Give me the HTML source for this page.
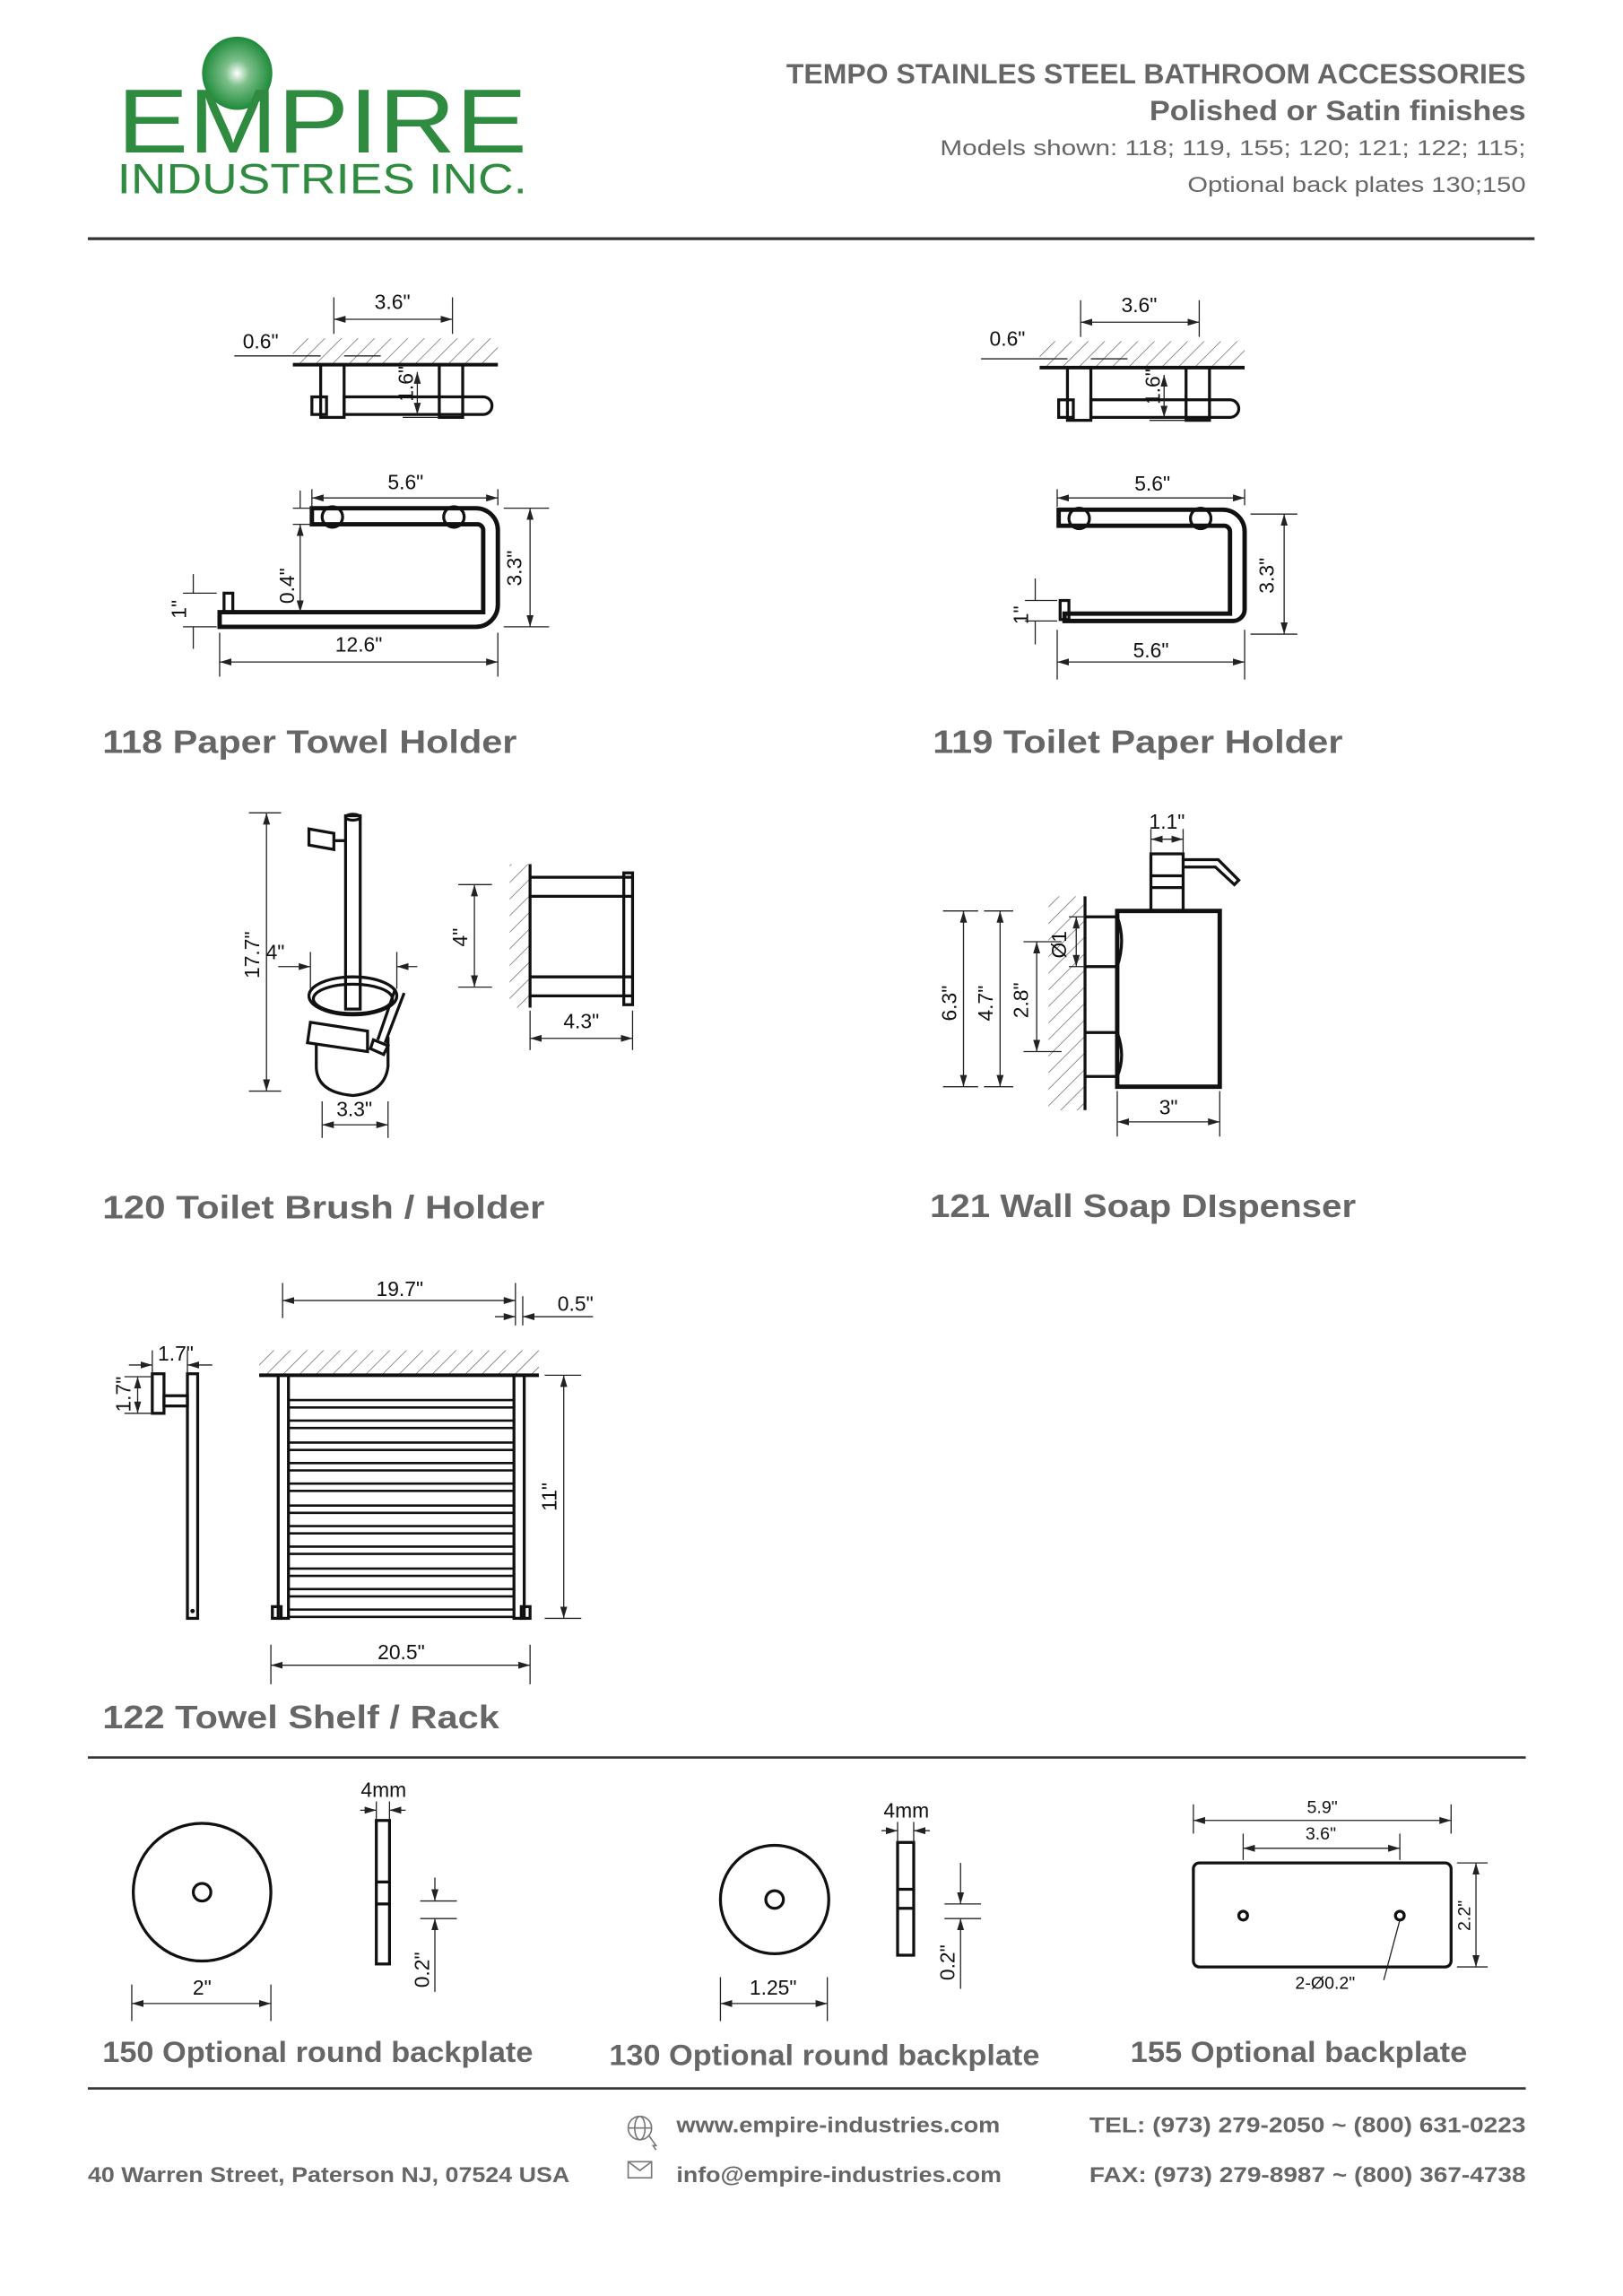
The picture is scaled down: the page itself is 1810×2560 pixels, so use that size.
<!DOCTYPE html>
<html><head><meta charset="utf-8"><style>
html,body{margin:0;padding:0;background:#fff;}
svg{display:block;}
.t{font-family:"Liberation Sans",sans-serif;fill:#666;font-weight:bold;}
.d{font-family:"Liberation Sans",sans-serif;fill:#111;font-size:14px;}
.k{stroke:#111;stroke-width:3;fill:none;}
.m{stroke:#111;stroke-width:2;fill:none;}
.n{stroke:#222;stroke-width:0.8;fill:none;}
.a{stroke:#222;stroke-width:0.8;fill:none;marker-start:url(#ar);marker-end:url(#ar);}
</style></head><body>
<svg width="1810" height="2560" viewBox="0 0 1108.4 1567.7" preserveAspectRatio="none" xmlns="http://www.w3.org/2000/svg">
<defs>
<marker id="ar" viewBox="0 0 10 10" refX="10" refY="5" markerWidth="8" markerHeight="8" orient="auto-start-reverse" markerUnits="userSpaceOnUse"><path d="M0,2 L10,5 L0,8 z" fill="#222"/></marker>
<pattern id="h" width="8" height="8" patternUnits="userSpaceOnUse" patternTransform="rotate(45)"><line x1="0" y1="0" x2="0" y2="8" stroke="#555" stroke-width="0.8"/></pattern>
<radialGradient id="g" cx="50%" cy="50%" r="50%"><stop offset="0" stop-color="#fff"/><stop offset="0.35" stop-color="#7cc08a"/><stop offset="1" stop-color="#1e8a3a"/></radialGradient>
</defs>

<!-- header -->
<ellipse cx="162" cy="50" rx="24" ry="25" fill="url(#g)"/>
<text x="80" y="104" font-family="Liberation Sans,sans-serif" font-size="62" fill="#2f8b3f" textLength="280" lengthAdjust="spacingAndGlyphs">EMPIRE</text>
<text x="80" y="132" font-family="Liberation Sans,sans-serif" font-size="29" fill="#2f8b3f" textLength="280" lengthAdjust="spacingAndGlyphs">INDUSTRIES INC.</text>
<text class="t" x="537" y="57" font-size="19" fill="#5a5a5a" textLength="505" lengthAdjust="spacingAndGlyphs">TEMPO STAINLES STEEL BATHROOM ACCESSORIES</text>
<text class="t" x="785" y="82" font-size="19" textLength="257" lengthAdjust="spacingAndGlyphs">Polished or Satin finishes</text>
<text x="642" y="106" font-size="15" font-family="Liberation Sans,sans-serif" fill="#666" textLength="400" lengthAdjust="spacingAndGlyphs">Models shown: 118; 119, 155; 120; 121; 122; 115;</text>
<text x="811" y="131" font-size="15" font-family="Liberation Sans,sans-serif" fill="#666" textLength="231" lengthAdjust="spacingAndGlyphs">Optional back plates 130;150</text>
<line x1="60" y1="163" x2="1048" y2="163" stroke="#333" stroke-width="2"/>

<!-- 118 top -->
<g>
<rect x="200" y="231" width="140" height="18" fill="url(#h)"/>
<line x1="200" y1="249" x2="340" y2="249" stroke="#111" stroke-width="2.5"/>
<rect class="m" x="213" y="271" width="10" height="12"/>
<path class="m" d="M235,271 H330 a6,6 0 0 1 0,12 H235 z"/>
<rect class="m" x="219" y="249" width="16" height="36" fill="#fff"/>
<rect class="m" x="300" y="249" width="16" height="36" fill="#fff"/>
<line class="n" x1="228" y1="203" x2="228" y2="228"/><line class="n" x1="309" y1="203" x2="309" y2="228"/>
<line class="a" x1="228" y1="218" x2="309" y2="218"/>
<text class="d" x="268" y="211" text-anchor="middle">3.6"</text>
<line class="n" x1="160" y1="243" x2="219" y2="243"/><line class="n" x1="235" y1="243" x2="260" y2="243"/>
<text class="d" x="178" y="238" text-anchor="middle">0.6"</text>
<line class="a" x1="285" y1="254" x2="285" y2="283"/><line class="n" x1="275" y1="285" x2="300" y2="285"/>
<text class="d" transform="translate(282,262) rotate(-90)" text-anchor="middle">1.6"</text>
</g>
<!-- 118 front -->
<g>
<path class="k" d="M213,347 H325 a15,15 0 0 1 15,15 V413 a15,15 0 0 1 -15,15 H150 V418 H330 V362 a4,4 0 0 0 -4,-4 H213 z"/>
<rect class="m" x="153" y="405" width="6" height="13" fill="#fff"/>
<circle class="m" cx="227" cy="353" r="7" fill="#fff"/>
<circle class="m" cx="310" cy="353" r="7" fill="#fff"/>
<line class="n" x1="213" y1="334" x2="213" y2="346"/><line class="n" x1="340" y1="334" x2="340" y2="345"/>
<line class="a" x1="213" y1="340" x2="340" y2="340"/>
<text class="d" x="277" y="334" text-anchor="middle">5.6"</text>
<line class="n" x1="150" y1="432" x2="150" y2="462"/><line class="n" x1="340" y1="432" x2="340" y2="462"/>
<line class="a" x1="150" y1="452" x2="340" y2="452"/>
<text class="d" x="245" y="445" text-anchor="middle">12.6"</text>
<line class="n" x1="344" y1="347" x2="375" y2="347"/><line class="n" x1="344" y1="428" x2="375" y2="428"/>
<line class="a" x1="362" y1="347" x2="362" y2="428"/>
<text class="d" transform="translate(356,388) rotate(-90)" text-anchor="middle">3.3"</text>
<line class="n" x1="200" y1="347" x2="213" y2="347"/><line class="n" x1="200" y1="358" x2="213" y2="358"/>
<line class="n" x1="205" y1="335" x2="205" y2="347"/><line class="a" x1="205" y1="418" x2="205" y2="358"/>
<text class="d" transform="translate(201,400) rotate(-90)" text-anchor="middle">0.4"</text>
<line class="n" x1="125" y1="405" x2="148" y2="405"/><line class="n" x1="125" y1="428" x2="148" y2="428"/>
<line class="n" x1="132" y1="392" x2="132" y2="405"/><line class="n" x1="132" y1="428" x2="132" y2="443"/>
<text class="d" transform="translate(127,416) rotate(-90)" text-anchor="middle">1"</text>
</g>
<text class="t" x="70" y="514" font-size="22" textLength="283" lengthAdjust="spacingAndGlyphs">118 Paper Towel Holder</text>

<!-- 119 top -->
<g transform="translate(510,2)">
<rect x="200" y="231" width="140" height="18" fill="url(#h)"/>
<line x1="200" y1="249" x2="340" y2="249" stroke="#111" stroke-width="2.5"/>
<rect class="m" x="213" y="271" width="10" height="12"/>
<path class="m" d="M235,271 H330 a6,6 0 0 1 0,12 H235 z"/>
<rect class="m" x="219" y="249" width="16" height="36" fill="#fff"/>
<rect class="m" x="300" y="249" width="16" height="36" fill="#fff"/>
<line class="n" x1="228" y1="203" x2="228" y2="228"/><line class="n" x1="309" y1="203" x2="309" y2="228"/>
<line class="a" x1="228" y1="218" x2="309" y2="218"/>
<text class="d" x="268" y="211" text-anchor="middle">3.6"</text>
<line class="n" x1="160" y1="243" x2="219" y2="243"/><line class="n" x1="235" y1="243" x2="260" y2="243"/>
<text class="d" x="178" y="234" text-anchor="middle">0.6"</text>
<line class="a" x1="285" y1="254" x2="285" y2="283"/><line class="n" x1="275" y1="285" x2="300" y2="285"/>
<text class="d" transform="translate(282,262) rotate(-90)" text-anchor="middle">1.6"</text>
</g>
<!-- 119 front -->
<g>
<path class="k" d="M723,348 H835 a15,15 0 0 1 15,15 V416 a8,8 0 0 1 -8,8 H727 V419 H840 V363 a4,4 0 0 0 -4,-4 H723 z"/>
<rect class="m" x="724" y="410" width="6" height="13" fill="#fff"/>
<circle class="m" cx="737" cy="354" r="7" fill="#fff"/>
<circle class="m" cx="820" cy="354" r="7" fill="#fff"/>
<line class="n" x1="722" y1="334" x2="722" y2="346"/><line class="n" x1="850" y1="334" x2="850" y2="345"/>
<line class="a" x1="722" y1="340" x2="850" y2="340"/>
<text class="d" x="787" y="335" text-anchor="middle">5.6"</text>
<line class="n" x1="722" y1="430" x2="722" y2="464"/><line class="n" x1="850" y1="430" x2="850" y2="464"/>
<line class="a" x1="722" y1="452" x2="850" y2="452"/>
<text class="d" x="786" y="449" text-anchor="middle">5.6"</text>
<line class="n" x1="854" y1="351" x2="886" y2="351"/><line class="n" x1="854" y1="433" x2="886" y2="433"/>
<line class="a" x1="877" y1="351" x2="877" y2="433"/>
<text class="d" transform="translate(870,393) rotate(-90)" text-anchor="middle">3.3"</text>
<line class="n" x1="700" y1="410" x2="722" y2="410"/><line class="n" x1="700" y1="424" x2="722" y2="424"/>
<line class="n" x1="707" y1="395" x2="707" y2="410"/><line class="n" x1="707" y1="424" x2="707" y2="440"/>
<text class="d" transform="translate(702,420) rotate(-90)" text-anchor="middle">1"</text>
</g>
<text class="t" x="637" y="514" font-size="22" textLength="280" lengthAdjust="spacingAndGlyphs">119 Toilet Paper Holder</text>

<!-- 120 brush -->
<g>
<rect class="m" x="236" y="557" width="10" height="132" fill="#fff"/>
<ellipse class="m" cx="241" cy="558" rx="5" ry="2"/>
<path class="m" d="M211,566 L228,569 L228,580 L211,577 z"/>
<line class="m" x1="228" y1="574" x2="236" y2="574"/>
<ellipse class="m" cx="241" cy="680" rx="30" ry="13"/>
<ellipse class="m" cx="241" cy="682" rx="27" ry="10"/>
<path class="m" d="M212,698 L251,704 L251,718 L210,712 z"/>
<path class="m" d="M216,713 V728 q0,18 25,20 q22,-2 24,-20 V708"/>
<path class="m" d="M270,675 L258,710 M276,678 L263,712"/>
<path class="m" d="M255,710 L265,714 L262,720 L253,716 z"/>
<line class="n" x1="170" y1="555" x2="192" y2="555"/><line class="n" x1="170" y1="745" x2="192" y2="745"/>
<line class="a" x1="182" y1="555" x2="182" y2="745"/>
<text class="d" transform="translate(177,652) rotate(-90)" text-anchor="middle">17.7"</text>
<text class="d" x="188" y="655" text-anchor="middle">4"</text>
<line class="n" x1="212" y1="650" x2="212" y2="675"/><line class="n" x1="271" y1="650" x2="271" y2="675"/>
<line class="n" x1="190" y1="660" x2="212" y2="660" marker-end="url(#ar)"/>
<line class="n" x1="285" y1="660" x2="271" y2="660" marker-end="url(#ar)"/>
<line class="n" x1="220" y1="752" x2="220" y2="777"/><line class="n" x1="265" y1="752" x2="265" y2="777"/>
<line class="a" x1="220" y1="768" x2="265" y2="768"/>
<text class="d" x="242" y="762" text-anchor="middle">3.3"</text>
</g>
<!-- 120 holder -->
<g>
<rect x="348" y="590" width="14" height="98" fill="url(#h)"/>
<line x1="362" y1="590" x2="362" y2="688" stroke="#111" stroke-width="2"/>
<line class="m" x1="362" y1="599" x2="432" y2="599"/>
<line class="m" x1="362" y1="612" x2="432" y2="612"/>
<line class="m" x1="362" y1="667" x2="432" y2="667"/>
<line class="m" x1="362" y1="680" x2="432" y2="680"/>
<rect class="m" x="426" y="596" width="6" height="90" fill="#fff"/>
<line class="n" x1="313" y1="604" x2="336" y2="604"/><line class="n" x1="313" y1="674" x2="336" y2="674"/>
<line class="a" x1="324" y1="604" x2="324" y2="674"/>
<text class="d" transform="translate(319,640) rotate(-90)" text-anchor="middle">4"</text>
<line class="n" x1="362" y1="690" x2="362" y2="717"/><line class="n" x1="432" y1="690" x2="432" y2="717"/>
<line class="a" x1="362" y1="709" x2="432" y2="709"/>
<text class="d" x="397" y="702" text-anchor="middle">4.3"</text>
</g>
<text class="t" x="70" y="832" font-size="22" textLength="302" lengthAdjust="spacingAndGlyphs">120 Toilet Brush / Holder</text>

<!-- 121 -->
<g>
<rect x="716" y="612" width="24" height="146" fill="url(#h)"/>
<line x1="741" y1="612" x2="741" y2="758" stroke="#111" stroke-width="2"/>
<rect class="k" x="763" y="622" width="70" height="120" fill="#fff"/>
<path class="m" d="M741,626 H763 q6,16 0,34 H741"/>
<path class="m" d="M741,705 H763 q6,16 0,30 H741"/>
<rect class="m" x="786" y="583" width="22" height="39"/>
<line class="m" x1="786" y1="598" x2="808" y2="598"/><line class="m" x1="786" y1="606" x2="808" y2="606"/>
<path class="m" d="M808,587 H832 L846,601 L843,604 L830,592 H808"/>
<line class="n" x1="786" y1="566" x2="786" y2="582"/><line class="n" x1="808" y1="566" x2="808" y2="582"/>
<line class="a" x1="786" y1="573" x2="808" y2="573"/>
<text class="d" x="797" y="566" text-anchor="middle">1.1"</text>
<line class="n" x1="644" y1="622" x2="668" y2="622"/><line class="n" x1="644" y1="742" x2="668" y2="742"/>
<line class="a" x1="658" y1="622" x2="658" y2="742"/>
<text class="d" transform="translate(653,685) rotate(-90)" text-anchor="middle">6.3"</text>
<line class="n" x1="672" y1="622" x2="692" y2="622"/><line class="n" x1="672" y1="742" x2="692" y2="742"/>
<line class="a" x1="683" y1="622" x2="683" y2="742"/>
<text class="d" transform="translate(678,685) rotate(-90)" text-anchor="middle">4.7"</text>
<line class="n" x1="699" y1="643" x2="725" y2="643"/><line class="n" x1="699" y1="718" x2="725" y2="718"/>
<line class="a" x1="708" y1="643" x2="708" y2="718"/>
<text class="d" transform="translate(702,683) rotate(-90)" text-anchor="middle">2.8"</text>
<line class="n" x1="730" y1="626" x2="740" y2="626"/><line class="n" x1="730" y1="660" x2="740" y2="660"/>
<line class="a" x1="735" y1="626" x2="735" y2="660"/>
<text class="d" transform="translate(728,645) rotate(-90)" text-anchor="middle">Ø1</text>
<line class="n" x1="763" y1="745" x2="763" y2="776"/><line class="n" x1="833" y1="745" x2="833" y2="776"/>
<line class="a" x1="763" y1="766" x2="833" y2="766"/>
<text class="d" x="798" y="761" text-anchor="middle">3"</text>
</g>
<text class="t" x="635" y="831" font-size="22" textLength="291" lengthAdjust="spacingAndGlyphs">121 Wall Soap DIspenser</text>

<!-- 122 side -->
<g>
<rect class="m" x="104" y="938" width="8" height="27"/>
<rect class="m" x="112" y="953" width="16" height="7"/>
<rect class="m" x="128" y="938" width="7" height="167" fill="#fff"/>
<circle cx="131.5" cy="1100" r="1.5" fill="#111"/>
<line class="n" x1="104" y1="922" x2="104" y2="938"/><line class="n" x1="128" y1="922" x2="128" y2="938"/>
<line class="n" x1="88" y1="932" x2="104" y2="932" marker-end="url(#ar)"/>
<line class="n" x1="145" y1="932" x2="128" y2="932" marker-end="url(#ar)"/>
<text class="d" x="120" y="929" text-anchor="middle">1.7"</text>
<line class="n" x1="85" y1="940" x2="103" y2="940"/><line class="n" x1="85" y1="965" x2="103" y2="965"/>
<line class="a" x1="94" y1="940" x2="94" y2="965"/>
<text class="d" transform="translate(89,952) rotate(-90)" text-anchor="middle">1.7"</text>
</g>
<!-- 122 rack -->
<g>
<rect x="177" y="922" width="191" height="17" fill="url(#h)"/>
<line x1="177" y1="939" x2="368" y2="939" stroke="#111" stroke-width="2.5"/>
<g stroke="#111" stroke-width="1.6">
<line x1="197" y1="956" x2="351" y2="956"/><line x1="197" y1="961" x2="351" y2="961"/>
<line x1="197" y1="970" x2="351" y2="970"/><line x1="197" y1="975" x2="351" y2="975"/>
<line x1="197" y1="985" x2="351" y2="985"/><line x1="197" y1="990" x2="351" y2="990"/>
<line x1="197" y1="999" x2="351" y2="999"/><line x1="197" y1="1004" x2="351" y2="1004"/>
<line x1="197" y1="1013" x2="351" y2="1013"/><line x1="197" y1="1018" x2="351" y2="1018"/>
<line x1="197" y1="1028" x2="351" y2="1028"/><line x1="197" y1="1033" x2="351" y2="1033"/>
<line x1="197" y1="1042" x2="351" y2="1042"/><line x1="197" y1="1047" x2="351" y2="1047"/>
<line x1="197" y1="1056" x2="351" y2="1056"/><line x1="197" y1="1061" x2="351" y2="1061"/>
<line x1="197" y1="1071" x2="351" y2="1071"/><line x1="197" y1="1076" x2="351" y2="1076"/>
<line x1="197" y1="1085" x2="351" y2="1085"/><line x1="197" y1="1090" x2="351" y2="1090"/>
<line x1="197" y1="1099" x2="351" y2="1099"/><line x1="197" y1="1104" x2="351" y2="1104"/>
</g>
<rect class="m" x="186" y="1097" width="6" height="8"/><rect class="m" x="356" y="1097" width="6" height="8"/>
<rect class="m" x="190" y="939" width="7" height="166" fill="#fff"/>
<rect class="m" x="351" y="939" width="7" height="166" fill="#fff"/>
<line class="n" x1="193" y1="876" x2="193" y2="900"/><line class="n" x1="352" y1="876" x2="352" y2="905"/><line class="n" x1="357" y1="885" x2="357" y2="905"/>
<line class="a" x1="193" y1="888" x2="352" y2="888"/>
<text class="d" x="273" y="885" text-anchor="middle">19.7"</text>
<line class="n" x1="338" y1="899" x2="352" y2="899" marker-end="url(#ar)"/>
<line class="n" x1="405" y1="899" x2="357" y2="899" marker-end="url(#ar)"/>
<text class="d" x="393" y="895" text-anchor="middle">0.5"</text>
<line class="n" x1="372" y1="939" x2="397" y2="939"/><line class="n" x1="372" y1="1105" x2="397" y2="1105"/>
<line class="a" x1="385" y1="939" x2="385" y2="1105"/>
<text class="d" transform="translate(380,1022) rotate(-90)" text-anchor="middle">11"</text>
<line class="n" x1="185" y1="1123" x2="185" y2="1150"/><line class="n" x1="362" y1="1123" x2="362" y2="1150"/>
<line class="a" x1="185" y1="1137" x2="362" y2="1137"/>
<text class="d" x="274" y="1133" text-anchor="middle">20.5"</text>
</g>
<text class="t" x="70" y="1180" font-size="22" textLength="271" lengthAdjust="spacingAndGlyphs">122 Towel Shelf / Rack</text>
<line x1="60" y1="1200" x2="1042" y2="1200" stroke="#333" stroke-width="1.6"/>

<!-- 150 -->
<g>
<circle class="m" cx="138" cy="1292" r="47" stroke-width="1.5"/>
<circle class="m" cx="138" cy="1292" r="6" stroke-width="1.5"/>
<rect class="m" x="257" y="1243" width="9" height="98" stroke-width="1.5"/>
<line class="m" x1="257" y1="1285" x2="266" y2="1285" stroke-width="1"/><line class="m" x1="257" y1="1300" x2="266" y2="1300" stroke-width="1"/>
<text class="d" x="262" y="1227" text-anchor="middle">4mm</text>
<line class="n" x1="257" y1="1230" x2="257" y2="1243"/><line class="n" x1="266" y1="1230" x2="266" y2="1243"/>
<line class="n" x1="246" y1="1236" x2="257" y2="1236" marker-end="url(#ar)"/><line class="n" x1="277" y1="1236" x2="266" y2="1236" marker-end="url(#ar)"/>
<line class="n" x1="287" y1="1298" x2="312" y2="1298"/><line class="n" x1="287" y1="1310" x2="312" y2="1310"/>
<line class="n" x1="297" y1="1282" x2="297" y2="1298" marker-end="url(#ar)"/><line class="n" x1="297" y1="1360" x2="297" y2="1310" marker-end="url(#ar)"/>
<text class="d" transform="translate(293,1345) rotate(-90)" text-anchor="middle">0.2"</text>
<line class="n" x1="90" y1="1355" x2="90" y2="1380"/><line class="n" x1="185" y1="1355" x2="185" y2="1380"/>
<line class="a" x1="90" y1="1368" x2="185" y2="1368"/>
<text class="d" x="138" y="1362" text-anchor="middle">2"</text>
</g>
<!-- 130 -->
<g>
<circle class="m" cx="529" cy="1297" r="37" stroke-width="1.5"/>
<circle class="m" cx="529" cy="1297" r="6" stroke-width="1.5"/>
<rect class="m" x="613" y="1258" width="11" height="77" stroke-width="1.5"/>
<line class="m" x1="613" y1="1290" x2="624" y2="1290" stroke-width="1"/><line class="m" x1="613" y1="1303" x2="624" y2="1303" stroke-width="1"/>
<text class="d" x="619" y="1241" text-anchor="middle">4mm</text>
<line class="n" x1="613" y1="1244" x2="613" y2="1258"/><line class="n" x1="624" y1="1244" x2="624" y2="1258"/>
<line class="n" x1="602" y1="1250" x2="613" y2="1250" marker-end="url(#ar)"/><line class="n" x1="635" y1="1250" x2="624" y2="1250" marker-end="url(#ar)"/>
<line class="n" x1="645" y1="1300" x2="670" y2="1300"/><line class="n" x1="645" y1="1310" x2="670" y2="1310"/>
<line class="n" x1="656" y1="1272" x2="656" y2="1300" marker-end="url(#ar)"/><line class="n" x1="656" y1="1358" x2="656" y2="1310" marker-end="url(#ar)"/>
<text class="d" transform="translate(652,1340) rotate(-90)" text-anchor="middle">0.2"</text>
<line class="n" x1="492" y1="1350" x2="492" y2="1380"/><line class="n" x1="565" y1="1350" x2="565" y2="1380"/>
<line class="a" x1="492" y1="1368" x2="565" y2="1368"/>
<text class="d" x="528" y="1362" text-anchor="middle">1.25"</text>
</g>
<!-- 155 -->
<g>
<rect class="m" x="815" y="1272" width="176" height="71" rx="4" stroke-width="1.5"/>
<circle class="m" cx="849" cy="1308" r="3" stroke-width="1.5"/>
<circle class="m" cx="956" cy="1308" r="3" stroke-width="1.5"/>
<line class="n" x1="956" y1="1311" x2="945" y2="1352"/>
<text x="905" y="1358" text-anchor="middle" font-family="Liberation Sans,sans-serif" font-size="12" fill="#111">2-Ø0.2"</text>
<line class="n" x1="815" y1="1232" x2="815" y2="1252"/><line class="n" x1="991" y1="1232" x2="991" y2="1252"/>
<line class="a" x1="815" y1="1243" x2="991" y2="1243"/>
<text x="903" y="1238" text-anchor="middle" font-family="Liberation Sans,sans-serif" font-size="12" fill="#111">5.9"</text>
<line class="n" x1="849" y1="1252" x2="849" y2="1270"/><line class="n" x1="956" y1="1252" x2="956" y2="1270"/>
<line class="a" x1="849" y1="1262" x2="956" y2="1262"/>
<text x="902" y="1256" text-anchor="middle" font-family="Liberation Sans,sans-serif" font-size="12" fill="#111">3.6"</text>
<line class="n" x1="995" y1="1272" x2="1016" y2="1272"/><line class="n" x1="995" y1="1343" x2="1016" y2="1343"/>
<line class="a" x1="1008" y1="1272" x2="1008" y2="1343"/>
<text transform="translate(1004,1308) rotate(-90)" text-anchor="middle" font-family="Liberation Sans,sans-serif" font-size="12" fill="#111">2.2"</text>
</g>
<text class="t" x="70" y="1408" font-size="20" textLength="294" lengthAdjust="spacingAndGlyphs">150 Optional round backplate</text>
<text class="t" x="416" y="1410" font-size="20" textLength="294" lengthAdjust="spacingAndGlyphs">130 Optional round backplate</text>
<text class="t" x="772" y="1408" font-size="20" textLength="230" lengthAdjust="spacingAndGlyphs">155 Optional backplate</text>
<line x1="60" y1="1426" x2="1042" y2="1426" stroke="#333" stroke-width="1.6"/>

<!-- footer -->
<g stroke="#777" stroke-width="1" fill="none">
<circle cx="437" cy="1453" r="8"/><ellipse cx="437" cy="1453" rx="3.5" ry="8"/><line x1="429" y1="1453" x2="445" y2="1453"/>
<path d="M443,1458 l5,7 l-2,0 l2,3"/>
<rect x="429" y="1476" width="16" height="11"/><path d="M429,1476 l8,6 l8,-6"/>
</g>
<text class="t" x="462" y="1456" font-size="15" textLength="221" lengthAdjust="spacingAndGlyphs">www.empire-industries.com</text>
<text class="t" x="462" y="1490" font-size="15" textLength="222" lengthAdjust="spacingAndGlyphs">info@empire-industries.com</text>
<text class="t" x="60" y="1490" font-size="15" textLength="329" lengthAdjust="spacingAndGlyphs">40 Warren Street, Paterson NJ, 07524 USA</text>
<text class="t" x="744" y="1456" font-size="15" textLength="298" lengthAdjust="spacingAndGlyphs">TEL: (973) 279-2050 ~ (800) 631-0223</text>
<text class="t" x="744" y="1490" font-size="15" textLength="298" lengthAdjust="spacingAndGlyphs">FAX: (973) 279-8987 ~ (800) 367-4738</text>
</svg>
</body></html>
